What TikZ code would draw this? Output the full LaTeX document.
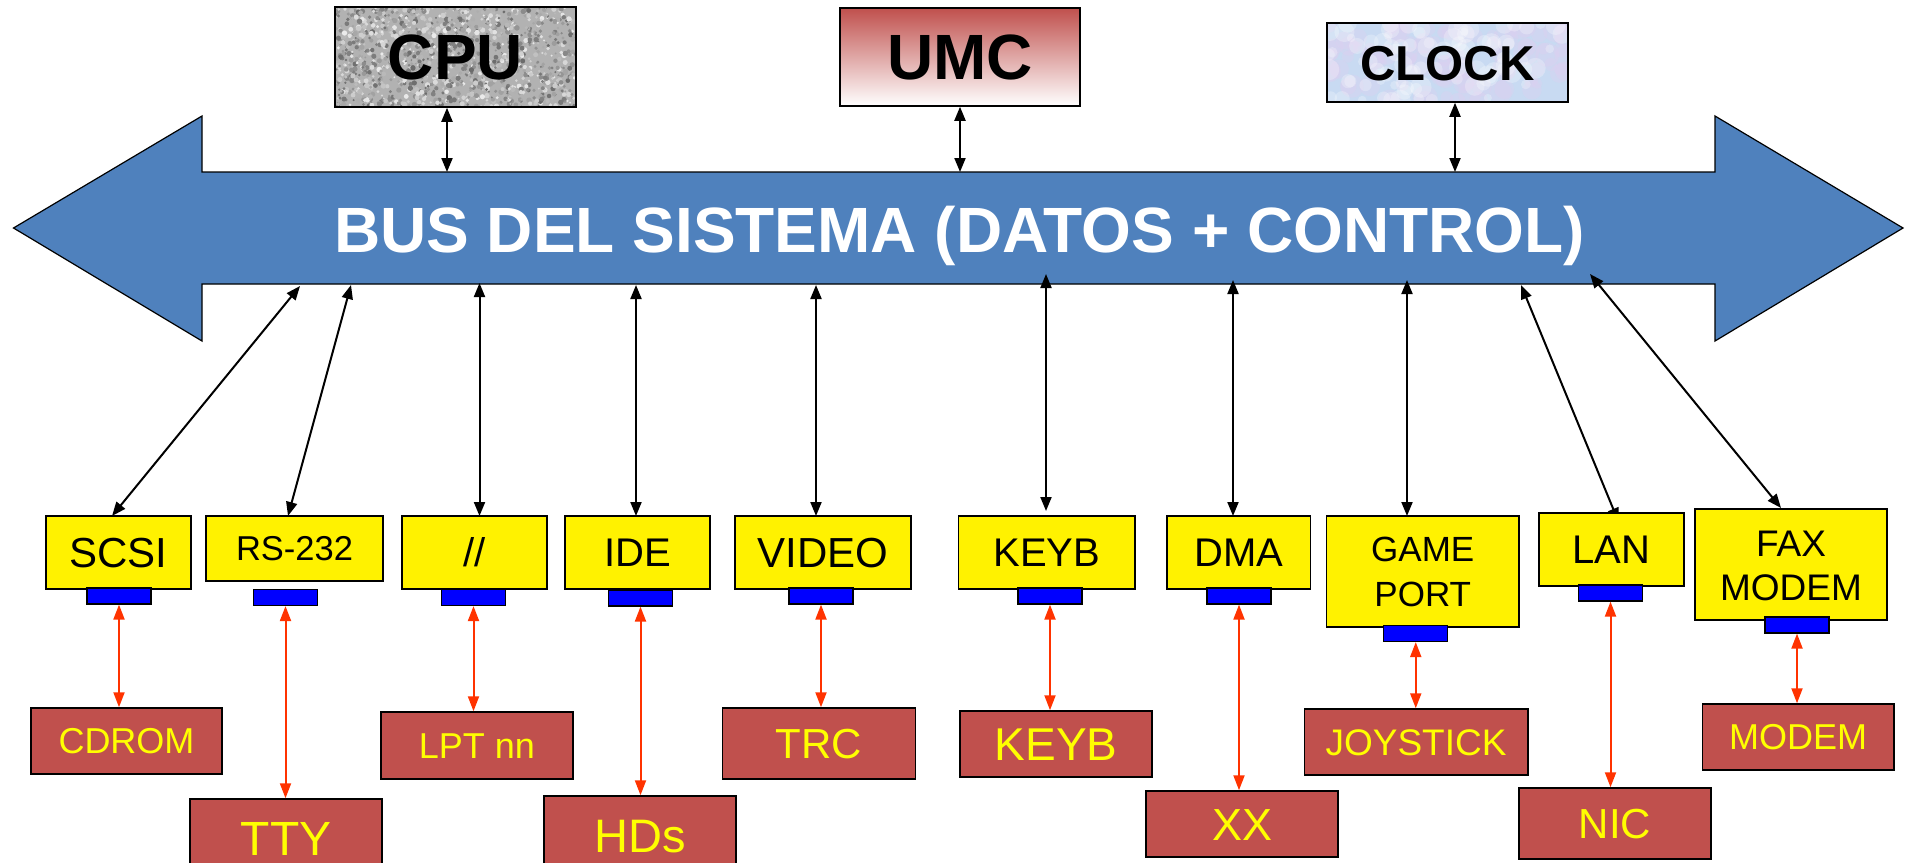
\documentclass[tikz,border=0pt]{standalone}
\usepackage{fontspec}
\setmainfont{Liberation Sans}
\usetikzlibrary{arrows.meta,calc}
\definecolor{busblue}{RGB}{79,129,189}
\definecolor{redbox}{RGB}{192,80,77}
\definecolor{portblue}{RGB}{0,0,255}
\definecolor{linkred}{RGB}{255,51,0}
\definecolor{clockblue}{RGB}{200,218,242}
\definecolor{clockpink}{RGB}{222,208,240}
\definecolor{txtyellow}{RGB}{255,255,0}
\newcommand{\fsz}[1]{\fontsize{#1pt}{#1pt}\selectfont}
\newcommand{\fszb}[2]{\fontsize{#1pt}{#2pt}\selectfont}
\begin{document}
\begin{tikzpicture}[x=1pt,y=-1pt,
  capc/.style={text height=\dimexpr #1pt*716/1000\relax,text depth=0pt},
  topbox/.style={draw=black,line width=1.5pt,inner sep=0pt,capc=#1,font=\bfseries\fsz{#1}},
  ybox/.style={draw=black,line width=1.5pt,fill=yellow,inner sep=0pt,capc=#1,align=center,font=\fsz{#1}},
  rbox/.style={draw=black,line width=1.5pt,fill=redbox,text=txtyellow,inner sep=0pt,capc=#1,font=\fsz{#1}},
  port/.style={draw=black,line width=1.2pt,fill=portblue,minimum width=64pt,minimum height=16pt,inner sep=0pt},
  blk/.style={line width=2pt,{Triangle[length=14pt,width=11pt]}-{Triangle[length=14pt,width=11pt]}},
  rlink/.style={draw=linkred,line width=2pt,{Triangle[length=15pt,width=11pt]}-{Triangle[length=15pt,width=11pt]}},
  bus/.style={draw=black,line width=1.2pt,fill=busblue}
]
\useasboundingbox (0,0) rectangle (1905,862);

% ---------- bus ----------
\draw[bus] (13.5,228) -- (202,116) -- (202,172) -- (1715,172) -- (1715,116)
  -- (1903,228) -- (1715,341) -- (1715,284) -- (202,284) -- (202,341) -- cycle;
\node[text=white,font=\bfseries\fsz{64},capc=64,inner sep=0pt] (bustext) at (959.5,229.5)
  {BUS DEL SISTEMA (DATOS + CONTROL)};

% bus attachment points
\coordinate (b-cpu) at (447,172);
\coordinate (b-umc) at (960,172);
\coordinate (b-clock) at (1455,172);
\coordinate (b-scsi) at (300,286);
\coordinate (b-rs) at (351,285);
\coordinate (b-par) at (479.5,283);
\coordinate (b-ide) at (636,285);
\coordinate (b-video) at (816,285);
\coordinate (b-keyb) at (1046,274);
\coordinate (b-dma) at (1233,280);
\coordinate (b-game) at (1407,280);
\coordinate (b-lan) at (1521,285);
\coordinate (b-fax) at (1590,274);

% ---------- top textures ----------
\pgfmathsetseed{11}
\begin{scope}
  \clip (335,7) rectangle (576,107);
  \fill[black!30] (335,7) rectangle (576,107);
  \foreach \i in {1,...,1400}{
    \pgfmathsetmacro{\px}{335+241*rnd}
    \pgfmathsetmacro{\py}{7+100*rnd}
    \pgfmathsetmacro{\gg}{8+50*rnd}
    \pgfmathsetmacro{\rr}{1+1.8*rnd}
    \fill[black!\gg] (\px,\py) circle[radius=\rr];
  }
\end{scope}
\begin{scope}
  \clip (1327,23) rectangle (1568,102);
  \fill[clockblue] (1327,23) rectangle (1568,102);
  \foreach \i in {1,...,90}{
    \pgfmathsetmacro{\px}{1327+241*rnd}
    \pgfmathsetmacro{\py}{23+79*rnd}
    \pgfmathsetmacro{\rr}{5+8*rnd}
    \fill[clockpink,opacity=0.35] (\px,\py) circle[radius=\rr];
  }
  \foreach \i in {1,...,90}{
    \pgfmathsetmacro{\px}{1327+241*rnd}
    \pgfmathsetmacro{\py}{23+79*rnd}
    \pgfmathsetmacro{\rr}{4+7*rnd}
    \fill[white,opacity=0.25] (\px,\py) circle[radius=\rr];
  }
\end{scope}

% ---------- top boxes ----------
\node[topbox=64,minimum width=241pt,minimum height=100pt] (cpu) at (455.5,57) {CPU};
\node[topbox=64,minimum width=240pt,minimum height=98pt,top color=redbox,bottom color=white] (umc) at (960,57) {UMC};
\node[topbox=49,minimum width=241pt,minimum height=79pt] (clock) at (1447.5,62.5) {CLOCK};

\draw[blk] (cpu.south -| b-cpu) -- (b-cpu);
\draw[blk] (umc.south -| b-umc) -- (b-umc);
\draw[blk] (clock.south -| b-clock) -- (b-clock);

% ---------- bus to controllers ----------
\draw[blk] (b-scsi) -- (112,516);
\draw[blk] (b-rs) -- (288,516);
\draw[blk] (b-par) -- (479.5,516);
\draw[blk] (b-ide) -- (636,516);
\draw[blk] (b-video) -- (816,516);
\draw[blk] (b-keyb) -- (1046,511);
\draw[blk] (b-dma) -- (1233,516);
\draw[blk] (b-game) -- (1407,516);
\draw[blk] (b-lan) -- (1618.6,522);
\draw[blk] (b-fax) -- (1781,508);

% ---------- controllers ----------
\node[ybox=42,minimum width=145pt,minimum height=73pt] (scsi) at (118.5,552.5) {SCSI};
\node[ybox=34.5,minimum width=177pt,minimum height=65pt] (rs) at (294.5,548.5) {RS-232};
\node[ybox=40,minimum width=145pt,minimum height=73pt] (par) at (474.5,552.5) {//};
\node[ybox=40,minimum width=145pt,minimum height=73pt] (ide) at (637.5,552.5) {IDE};
\node[ybox=42,minimum width=176pt,minimum height=73pt] (video) at (823,552.5) {VIDEO};
\node[ybox=40,minimum width=176.5pt,minimum height=73pt] (keyb) at (1046.75,552.5) {KEYB};
\node[ybox=40,minimum width=143.6pt,minimum height=73pt] (dma) at (1238.8,552.5) {DMA};
\node[ybox=35,minimum width=192.5pt,minimum height=111pt,text height=70pt,
  font=\fszb{35}{45}] (game) at (1422.75,571.5) {GAME\\PORT};
\node[ybox=40,minimum width=145pt,minimum height=73pt] (lan) at (1611.5,549.5) {LAN};
\node[ybox=37,minimum width=192pt,minimum height=111pt,text height=71pt,
  font=\fszb{37}{44}] (fax) at (1791,564.5) {FAX\\MODEM};

% ports
\node[port] (p-scsi) at (119,596) {};
\node[port] (p-rs) at (285.5,597.5) {};
\node[port] (p-par) at (473.5,597.5) {};
\node[port] (p-ide) at (640.5,598) {};
\node[port] (p-video) at (821,596) {};
\node[port] (p-keyb) at (1050,596) {};
\node[port] (p-dma) at (1239,596) {};
\node[port] (p-game) at (1415.75,633.5) {};
\node[port] (p-lan) at (1610.5,593) {};
\node[port] (p-fax) at (1797,625) {};

% ---------- devices ----------
\node[rbox=36,minimum width=191pt,minimum height=66pt] (cdrom) at (126.5,741) {CDROM};
\node[rbox=48,minimum width=192pt,minimum height=79pt] (tty) at (286,838.5) {TTY};
\node[rbox=36,minimum width=192pt,minimum height=67pt] (lpt) at (477,745.5) {LPT nn};
\node[rbox=47,minimum width=192pt,minimum height=80pt] (hds) at (640,836) {HDs};
\node[rbox=42,minimum width=193pt,minimum height=71pt] (trc) at (819,743.5) {TRC};
\node[rbox=46,minimum width=192pt,minimum height=66pt] (keyb2) at (1056,744) {KEYB};
\node[rbox=45,minimum width=192pt,minimum height=66pt] (xx) at (1242,824) {XX};
\node[rbox=37,minimum width=223.5pt,minimum height=66pt] (joy) at (1416,742) {JOYSTICK};
\node[rbox=42,minimum width=192pt,minimum height=71pt] (nic) at (1615,823.5) {NIC};
\node[rbox=36,minimum width=191.5pt,minimum height=66pt] (modem) at (1798,737) {MODEM};

% ---------- port to device links ----------
\draw[rlink] (p-scsi.south) -- (p-scsi.south |- cdrom.north);
\draw[rlink] (p-rs.south) -- (p-rs.south |- tty.north);
\draw[rlink] (p-par.south) -- (p-par.south |- lpt.north);
\draw[rlink] (p-ide.south) -- (p-ide.south |- hds.north);
\draw[rlink] (p-video.south) -- (p-video.south |- trc.north);
\draw[rlink] (p-keyb.south) -- (p-keyb.south |- keyb2.north);
\draw[rlink] (p-dma.south) -- (p-dma.south |- xx.north);
\draw[rlink] (p-game.south) -- (p-game.south |- joy.north);
\draw[rlink] (p-lan.south) -- (p-lan.south |- nic.north);
\draw[rlink] (p-fax.south) -- (p-fax.south |- modem.north);
\end{tikzpicture}
\end{document}
